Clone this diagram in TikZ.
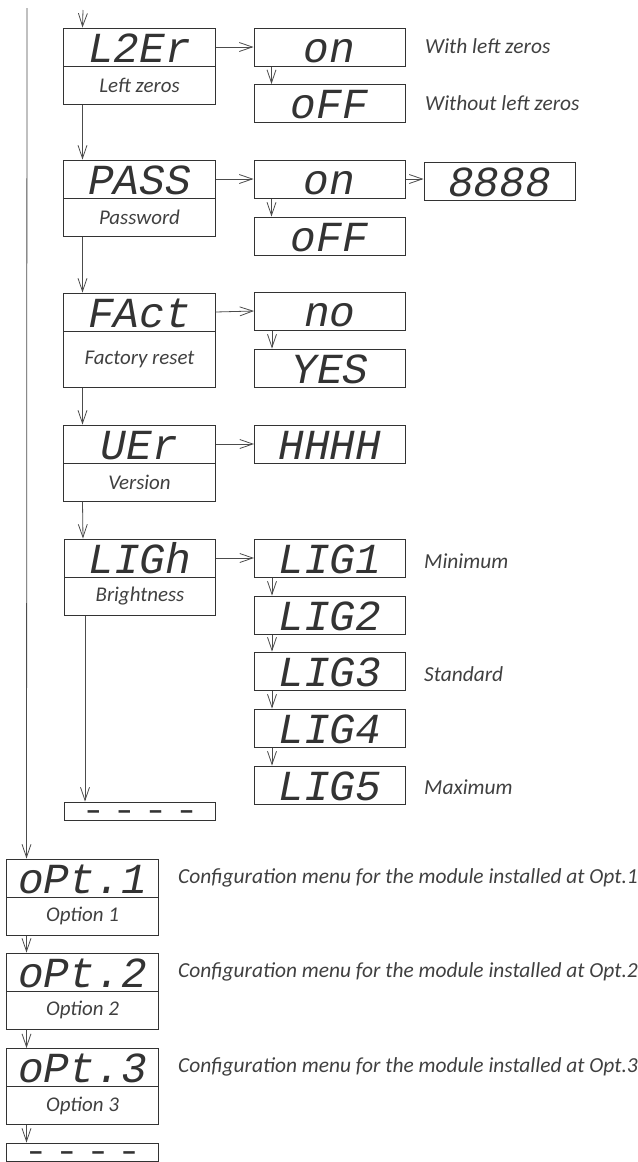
\documentclass[tikz,border=0pt]{standalone}
\usepackage{fontspec}
\setmainfont{Carlito}
\newfontfamily\segfont{Liberation Mono}
\usetikzlibrary{arrows.meta,calc}
\begin{document}
\begin{tikzpicture}[x=1bp,y=-1bp,
  conn/.style={draw=black!70, line width=0.8bp, -{Straight Barb[length=13bp,width=9bp]}},
  boxline/.style={draw=black!80, line width=1bp, inner sep=0pt},
  disp/.style={boxline, minimum width=151bp, minimum height=38bp, text height=30bp, text depth=0bp,
    font=\segfont\itshape\fontsize{43}{43}\selectfont, text=black!80},
  lab/.style={boxline, minimum width=151bp, minimum height=38bp,
    font=\itshape\fontsize{21}{24}\selectfont, text=black!75},
  endbox/.style={boxline, minimum width=151bp, minimum height=18bp, text height=14bp, text depth=0bp,
    font=\segfont\bfseries\fontsize{26}{26}\selectfont, text=black!80},
  side/.style={anchor=west, inner sep=0pt, font=\itshape\fontsize{21.5}{24}\selectfont, text=black!75},
]
\useasboundingbox (0,0) rectangle (638,1162);

% column A
\node[disp] (l2er) at (139.5,47) {L2Er};
\node[lab]  (l2erL) at (139.5,85) {Left zeros};
\node[disp] (pass) at (139.5,179) {PASS};
\node[lab]  (passL) at (139.5,217) {Password};
\node[disp] (fact) at (139.5,312) {FAct};
\node[lab, minimum height=56bp] (factL) at (139.5,359) {Factory reset};
\node[disp] (uer) at (139.5,444) {UEr};
\node[lab]  (uerL) at (139.5,482) {Version};
\node[disp] (ligh) at (140,558) {LIGh};
\node[lab]  (lighL) at (140,596) {Brightness};
\node[endbox] (end1) at (140,811) {– – – –};

% column B
\node[disp] (on1) at (329.5,47) {on};
\node[disp] (off1) at (329.5,103.5) {oFF};
\node[disp] (on2) at (329.5,179) {on};
\node[disp] (off2) at (329.5,236) {oFF};
\node[disp] (pw) at (499.5,181) {8888};
\node[disp] (no) at (330,311) {no};
\node[disp] (yes) at (330,368) {YES};
\node[disp] (hhhh) at (330,444) {HHHH};
\node[disp] (lig1) at (330,558) {LIG1};
\node[disp] (lig2) at (330,615) {LIG2};
\node[disp] (lig3) at (330,671) {LIG3};
\node[disp] (lig4) at (330,728) {LIG4};
\node[disp] (lig5) at (330,785) {LIG5};

% column C
\node[disp] (opt1) at (82.5,878) {oPt.1};
\node[lab]  (opt1L) at (82.5,916) {Option 1};
\node[disp] (opt2) at (82.5,972) {oPt.2};
\node[lab]  (opt2L) at (82.5,1010) {Option 2};
\node[disp] (opt3) at (82.5,1067.5) {oPt.3};
\node[lab]  (opt3L) at (82.5,1105.5) {Option 3};
\node[endbox] (end2) at (82.5,1152) {– – – –};

% side texts
\node[side] (t1) at (425,46) {With left zeros};
\node[side] (t2) at (425,103) {Without left zeros};
\node[side] (t3) at (424,561) {Minimum};
\node[side] (t4) at (424,674) {Standard};
\node[side] (t5) at (424,787) {Maximum};
\node[side] (c1) at (178,878) {Configuration menu for the module installed at Opt.1};
\node[side] (c2) at (178,972) {Configuration menu for the module installed at Opt.2};
\node[side] (c3) at (178,1067) {Configuration menu for the module installed at Opt.3};

% connectors
\coordinate (topin) at (83,10);
\coordinate (mainin) at (27,8);
\draw[conn] (topin) -- ([xshift=19bp]l2er.north west);
\draw[conn] (mainin) -- ([xshift=20bp]opt1.north west);
\draw[conn] (l2er.east) -- (on1.west);
\draw[conn] ([xshift=18bp]on1.south west) -- ([xshift=18bp]off1.north west);
\draw[conn] ([xshift=19bp]l2erL.south west) -- ([xshift=19bp]pass.north west);
\draw[conn] (pass.east) -- (on2.west);
\draw[conn] (on2.east) -- (on2.east -| pw.west);
\draw[conn] ([xshift=18bp]on2.south west) -- ([xshift=18bp]off2.north west);
\draw[conn] ([xshift=19bp]passL.south west) -- ([xshift=19bp]fact.north west);
\draw[conn] (fact.east) -- (no.west);
\draw[conn] ([xshift=18bp]no.south west) -- ([xshift=18bp]yes.north west);
\draw[conn] ([xshift=19bp]factL.south west) -- ([xshift=19bp]uer.north west);
\draw[conn] (uer.east) -- (hhhh.west);
\draw[conn] ([xshift=19bp]uerL.south west) -- ([xshift=19bp]ligh.north west);
\draw[conn] (ligh.east) -- (lig1.west);
\draw[conn] ([xshift=18bp]lig1.south west) -- ([xshift=18bp]lig2.north west);
\draw[conn] ([xshift=18bp]lig2.south west) -- ([xshift=18bp]lig3.north west);
\draw[conn] ([xshift=18bp]lig3.south west) -- ([xshift=18bp]lig4.north west);
\draw[conn] ([xshift=18bp]lig4.south west) -- ([xshift=18bp]lig5.north west);
\draw[conn] ([xshift=21bp]lighL.south west) -- ([xshift=21bp]end1.north west);
\draw[conn] ([xshift=20bp]opt1L.south west) -- ([xshift=20bp]opt2.north west);
\draw[conn] ([xshift=20bp]opt2L.south west) -- ([xshift=20bp]opt3.north west);
\draw[conn] ([xshift=20bp]opt3L.south west) -- ([xshift=20bp]end2.north west);
\end{tikzpicture}
\end{document}
